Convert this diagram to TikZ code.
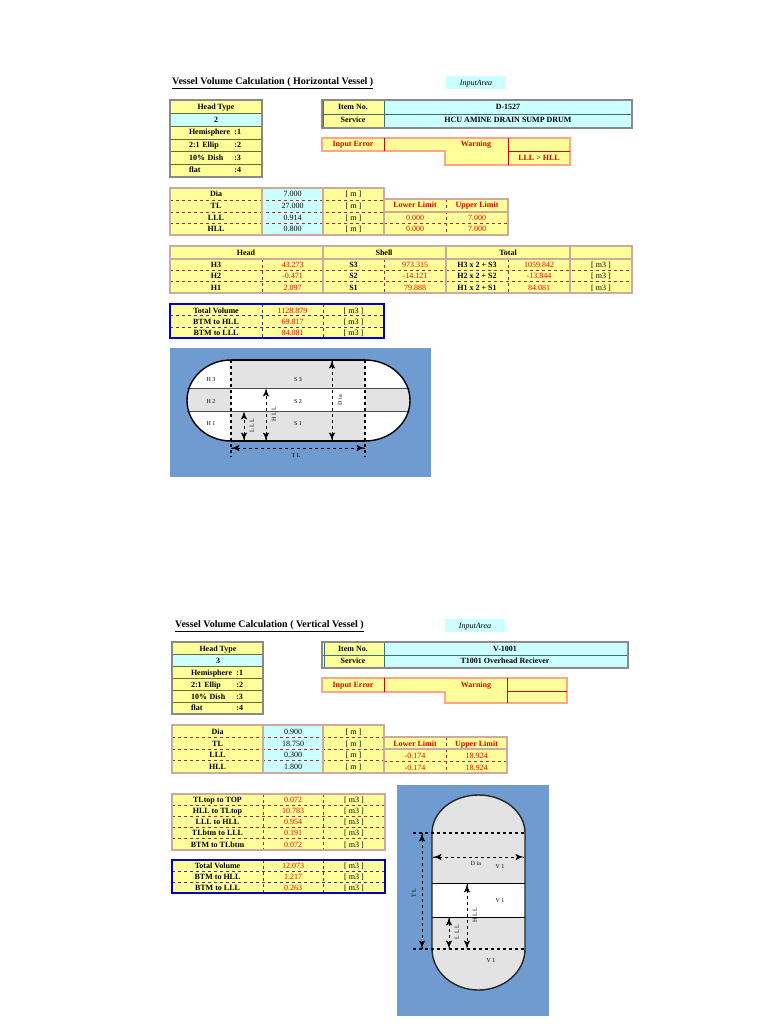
\documentclass[tikz,border=0pt]{standalone}
\usepackage{fontspec}
\setmainfont{Liberation Serif}
\usetikzlibrary{arrows}
\usetikzlibrary{decorations.markings}
\definecolor{cellyellow}{HTML}{FFFF99}
\definecolor{cellblue}{HTML}{CCFFFF}
\definecolor{sheetblue}{HTML}{6F9BD0}
\definecolor{shellgray}{HTML}{E3E3E3}
\definecolor{greyframe}{HTML}{8A8A8A}
\definecolor{olivegrid}{HTML}{6B6B3A}
\definecolor{tealgrid}{HTML}{3F6F6F}
\definecolor{salmonframe}{HTML}{FFA58A}
\definecolor{tanframe}{HTML}{CDAAA0}
\definecolor{dashred}{HTML}{993333}
\definecolor{dashblue}{HTML}{333399}
\tikzset{txt/.style = {inner sep=0pt, text height=7pt, text depth=1pt, font=\fontsize{8}{9}\selectfont},
         lbl/.style = {txt, font=\fontsize{8}{9}\selectfont\bfseries},
         val/.style = {txt, text=red},
         redlbl/.style = {lbl, text=red!90!black},
         kind/.style = {lbl, text width=52pt, align=left},
         ttl/.style = {inner sep=0pt, anchor=west, font=\fontsize{10}{11}\selectfont\bfseries},
         dimtxt/.style = {inner sep=0pt, font=\fontsize{6}{7}\selectfont},
         dim/.style = {dashed, line width=1pt,
                       decoration={markings,
                                   mark=at position 0 with {\pgfsetlinewidth{1.9pt}\pgfsetdash{}{0pt}\arrowreversed{latex'}},
                                   mark=at position 1 with {\pgfsetlinewidth{1.9pt}\pgfsetdash{}{0pt}\arrow{latex'}}},
                       postaction={decorate}},
         greybox/.style = {draw=greyframe, line width=1.4pt},
         olive/.style = {draw=olivegrid, line width=0.8pt},
         teal/.style = {draw=tealgrid, line width=0.8pt},
         salmonbox/.style = {draw=salmonframe, line width=1.4pt},
         redline/.style = {draw=red!85!black, line width=0.8pt},
         tanbox/.style = {draw=tanframe, line width=1.4pt},
         rowdash/.style = {draw=dashred, dashed, line width=0.7pt},
         bluebox/.style = {draw=blue!80!black, line width=1.8pt},
         bluedash/.style = {draw=dashblue, dashed, line width=0.7pt}}

\begin{document}
\begin{tikzpicture}[x=1pt, y=-1pt]
    \useasboundingbox (0, 0) rectangle (768, 1024);

    % horizontal vessel
    \node [ttl] (titleh) at (172, 83) {\underline{Vessel Volume Calculation ( Horizontal Vessel )}};
    \fill [cellblue] (446, 76) rectangle (506, 89);
    \node [txt, font=\fontsize{8}{9}\selectfont\itshape] (areah) at (476, 82.5) {InputArea};

    \fill [cellyellow] (171, 101) rectangle (262, 176);
    \fill [cellblue] (171, 113) rectangle (262, 126);
    \draw [olive] (171, 113) -- (262, 113) (171, 126) -- (262, 126) (171, 139) -- (262, 139)
                  (171, 151) -- (262, 151) (171, 164) -- (262, 164);
    \draw [greybox] (170, 100) rectangle (262, 177);
    \node [lbl] (typeh) at (216, 106.5) {Head Type};
    \node [lbl] (typevalh) at (216, 119.5) {2};
    \node [kind] (hemih) at (215, 132) {Hemisphere\hfill:1};
    \node [kind] (ellih) at (215, 145) {2:1 Ellip\hfill:2};
    \node [kind] (dishh) at (215, 157.5) {10\% Dish\hfill:3};
    \node [kind] (flath) at (215, 170) {flat\hfill:4};

    \fill [cellyellow] (322, 100) rectangle (384, 128);
    \fill [cellblue] (384, 100) rectangle (632, 128);
    \draw [teal] (322, 114) -- (632, 114) (323, 100) -- (323, 128) (384, 100) -- (384, 128);
    \draw [greybox] (322, 100) rectangle (632, 128);
    \node [lbl] (itemh) at (353, 106.5) {Item No.};
    \node [lbl] (servh) at (353, 120) {Service};
    \node [lbl] (itemvalh) at (508, 106.5) {D-1527};
    \node [lbl] (servvalh) at (508, 120) {HCU AMINE DRAIN SUMP DRUM};

    \fill [cellyellow] (322, 138) rectangle (445, 151) (445, 138) rectangle (570, 165);
    \draw [salmonbox] (322, 138) -- (570, 138) -- (570, 165) -- (445, 165) -- (445, 151) -- (322, 151) -- cycle;
    \draw [redline] (384, 138) -- (384, 151) (508, 138) -- (508, 165) (508, 151) -- (570, 151);
    \node [redlbl] (errorh) at (353, 144) {Input Error};
    \node [redlbl] (warnh) at (476, 144) {Warning};
    \node [redlbl] (warnvalh) at (539, 158) {LLL > HLL};

    \fill [cellyellow] (170, 188) rectangle (384, 235);
    \fill [cellblue] (262, 188) rectangle (323, 235);
    \draw [rowdash] (170, 200) -- (384, 200) (170, 212) -- (384, 212) (170, 223) -- (384, 223);
    \draw [tanbox] (170, 188) rectangle (384, 235) (262, 188) -- (262, 235) (323, 188) -- (323, 235);
    \node [lbl] (diah) at (216, 194) {Dia};
    \node [lbl] (tlh) at (216, 206) {TL};
    \node [lbl] (lllh) at (216, 217.5) {LLL};
    \node [lbl] (hllh) at (216, 229) {HLL};
    \node [txt] (diavalh) at (292.5, 194) {7.000};
    \node [txt] (tlvalh) at (292.5, 206) {27.000};
    \node [txt] (lllvalh) at (292.5, 217.5) {0.914};
    \node [txt] (hllvalh) at (292.5, 229) {0.800};
    \node [txt] (diaunith) at (353.5, 194) {[ m ]};
    \node [txt] (tlunith) at (353.5, 206) {[ m ]};
    \node [txt] (lllunith) at (353.5, 217.5) {[ m ]};
    \node [txt] (hllunith) at (353.5, 229) {[ m ]};

    \fill [cellyellow] (384, 199) rectangle (508, 235);
    \draw [rowdash] (384, 223) -- (508, 223) (446, 199) -- (446, 235);
    \draw [tanbox] (384, 199) rectangle (508, 235) (384, 212) -- (508, 212);
    \node [redlbl] (lowerh) at (415, 205) {Lower Limit};
    \node [redlbl] (upperh) at (477, 205) {Upper Limit};
    \node [val] (lowerah) at (415, 217.5) {0.000};
    \node [val] (upperah) at (477, 217.5) {7.000};
    \node [val] (lowerbh) at (415, 229) {0.000};
    \node [val] (upperbh) at (477, 229) {7.000};

    \fill [cellyellow] (170, 246) rectangle (632, 293);
    \draw [rowdash] (170, 270) -- (632, 270) (170, 281) -- (632, 281)
                    (262, 259) -- (262, 293) (384, 259) -- (384, 293) (508, 259) -- (508, 293);
    \draw [tanbox] (170, 246) rectangle (632, 293) (170, 259) -- (632, 259)
                   (323, 246) -- (323, 293) (446, 246) -- (446, 293) (570, 246) -- (570, 293);
    \node [lbl] (headh) at (246, 252.5) {Head};
    \node [lbl] (shellh) at (384, 252.5) {Shell};
    \node [lbl] (totalh) at (508, 252.5) {Total};
    \node [lbl] (hthree) at (216, 264) {H3};
    \node [lbl] (htwo) at (216, 275.5) {H2};
    \node [lbl] (hone) at (216, 287) {H1};
    \node [val] (hthreeval) at (292.5, 264) {43.273};
    \node [val] (htwoval) at (292.5, 275.5) {-0.471};
    \node [val] (honeval) at (292.5, 287) {2.097};
    \node [lbl] (sthree) at (353.5, 264) {S3};
    \node [lbl] (stwo) at (353.5, 275.5) {S2};
    \node [lbl] (sone) at (353.5, 287) {S1};
    \node [val] (sthreeval) at (415, 264) {973.315};
    \node [val] (stwoval) at (415, 275.5) {-14.121};
    \node [val] (soneval) at (415, 287) {79.888};
    \node [lbl] (tthree) at (477, 264) {H3 x 2 + S3};
    \node [lbl] (ttwo) at (477, 275.5) {H2 x 2 + S2};
    \node [lbl] (tone) at (477, 287) {H1 x 2 + S1};
    \node [val] (tthreeval) at (539, 264) {1059.842};
    \node [val] (ttwoval) at (539, 275.5) {-13.844};
    \node [val] (toneval) at (539, 287) {84.081};
    \node [txt] (tthreeunit) at (601, 264) {[ m3 ]};
    \node [txt] (ttwounit) at (601, 275.5) {[ m3 ]};
    \node [txt] (toneunit) at (601, 287) {[ m3 ]};

    \fill [cellyellow] (170, 304) rectangle (384, 338);
    \draw [bluedash] (170, 315.5) -- (384, 315.5) (170, 327) -- (384, 327)
                     (262, 304) -- (262, 338) (323, 304) -- (323, 338);
    \draw [bluebox] (170, 304) rectangle (384, 338);
    \node [lbl] (sumh) at (216, 310) {Total Volume};
    \node [lbl] (btmhllh) at (216, 321) {BTM to HLL};
    \node [lbl] (btmlllh) at (216, 332.5) {BTM to LLL};
    \node [val] (sumvalh) at (292.5, 310) {1128.879};
    \node [val] (btmhllvalh) at (292.5, 321) {69.817};
    \node [val] (btmlllvalh) at (292.5, 332.5) {84.081};
    \node [txt] (sumunith) at (353.5, 310) {[ m3 ]};
    \node [txt] (btmhllunith) at (353.5, 321) {[ m3 ]};
    \node [txt] (btmlllunith) at (353.5, 332.5) {[ m3 ]};

    \fill [sheetblue] (170, 348) rectangle (431, 477);
    \fill [white] (231, 360) arc [start angle=270, end angle=90, x radius=44, y radius=40.5]
        -- (365, 441) arc [start angle=90, end angle=-90, x radius=45, y radius=40.5] -- cycle;
    \begin{scope}
      \clip (231, 360) arc [start angle=270, end angle=90, x radius=44, y radius=40.5]
          -- (365, 441) arc [start angle=90, end angle=-90, x radius=45, y radius=40.5] -- cycle;
      \fill [shellgray] (231, 360) rectangle (365, 388) (231, 411) rectangle (365, 441)
                        (187, 388) rectangle (231, 411) (365, 388) rectangle (410, 411);
    \end{scope}
    \draw [black!70, line width=1pt] (187, 388) -- (410, 388) (187, 411) -- (410, 411);
    \draw [line width=1.4pt] (231, 360) arc [start angle=270, end angle=90, x radius=44, y radius=40.5]
        (365, 441) arc [start angle=90, end angle=-90, x radius=45, y radius=40.5];
    \draw [line width=2pt] (231, 360) -- (365, 360) (231, 441) -- (365, 441);
    \draw [dashed, line width=1.2pt] (231, 360) -- (231, 457) (365, 360) -- (365, 457);
    \coordinate (tlleft) at (231, 448);
    \coordinate (tlright) at (365, 448);
    \coordinate (lllbase) at (244, 441);
    \coordinate (llltop) at (244, 411);
    \coordinate (hllbase) at (266, 441);
    \coordinate (hlltop) at (266, 388);
    \coordinate (diabase) at (332, 441);
    \coordinate (diatop) at (332, 360);
    \draw [dim] (tlleft) -- (tlright);
    \draw [dim] (lllbase) -- (llltop);
    \draw [dim] (hllbase) -- (hlltop);
    \draw [dim] (diabase) -- (diatop);
    \node [dimtxt] (hthreedim) at (211, 380) {H 3};
    \node [dimtxt] (htwodim) at (211, 402) {H 2};
    \node [dimtxt] (honedim) at (211, 424) {H 1};
    \node [dimtxt] (sthreedim) at (298, 380) {S 3};
    \node [dimtxt] (stwodim) at (298, 402) {S 2};
    \node [dimtxt] (sonedim) at (298, 424) {S 1};
    \node [dimtxt] (tldim) at (296, 456) {T L};
    \node [dimtxt, rotate=90] (llldim) at (252, 425.5) {L L L};
    \node [dimtxt, rotate=90] (hlldim) at (274, 414) {H L L};
    \node [dimtxt, rotate=90] (diadim) at (340, 400) {D ia};

    % vertical vessel
    \node [ttl] (titlev) at (175, 626) {\underline{Vessel Volume Calculation ( Vertical Vessel )}};
    \fill [cellblue] (445, 619) rectangle (505, 632);
    \node [txt, font=\fontsize{8}{9}\selectfont\itshape] (areav) at (475, 625.5) {InputArea};

    \fill [cellyellow] (172, 642) rectangle (263, 714);
    \fill [cellblue] (172, 654) rectangle (263, 666);
    \draw [olive] (172, 654) -- (263, 654) (172, 666) -- (263, 666) (172, 678) -- (263, 678)
                  (172, 690) -- (263, 690) (172, 702) -- (263, 702);
    \draw [greybox] (172, 642) rectangle (263, 714);
    \node [lbl] (typev) at (218, 648) {Head Type};
    \node [lbl] (typevalv) at (218, 660) {3};
    \node [kind] (hemiv) at (217, 672) {Hemisphere\hfill:1};
    \node [kind] (elliv) at (217, 684) {2:1 Ellip\hfill:2};
    \node [kind] (dishv) at (217, 696) {10\% Dish\hfill:3};
    \node [kind] (flatv) at (217, 707.5) {flat\hfill:4};

    \fill [cellyellow] (322, 642) rectangle (384, 668);
    \fill [cellblue] (384, 642) rectangle (628, 668);
    \draw [teal] (322, 655) -- (628, 655) (324, 642) -- (324, 668) (384, 642) -- (384, 668);
    \draw [greybox] (322, 642) rectangle (628, 668);
    \node [lbl] (itemv) at (353, 648.5) {Item No.};
    \node [lbl] (servv) at (353, 660.5) {Service};
    \node [lbl] (itemvalv) at (505, 648.5) {V-1001};
    \node [lbl] (servvalv) at (505, 660.5) {T1001 Overhead Reciever};

    \fill [cellyellow] (322, 678) rectangle (445, 692) (445, 678) rectangle (567, 703);
    \draw [salmonbox] (322, 678) -- (567, 678) -- (567, 703) -- (445, 703) -- (445, 692) -- (322, 692) -- cycle;
    \draw [redline] (384, 678) -- (384, 692) (507, 678) -- (507, 703) (507, 691) -- (567, 691);
    \node [redlbl] (errorv) at (353, 684) {Input Error};
    \node [redlbl] (warnv) at (476, 684) {Warning};

    \fill [cellyellow] (172, 725) rectangle (384, 773);
    \fill [cellblue] (263, 725) rectangle (323, 773);
    \draw [rowdash] (172, 737) -- (384, 737) (172, 749) -- (384, 749) (172, 760) -- (384, 760);
    \draw [tanbox] (172, 725) rectangle (384, 773) (263, 725) -- (263, 773) (323, 725) -- (323, 773);
    \node [lbl] (diav) at (217.5, 731) {Dia};
    \node [lbl] (tlv) at (217.5, 743) {TL};
    \node [lbl] (lllv) at (217.5, 754.5) {LLL};
    \node [lbl] (hllv) at (217.5, 766) {HLL};
    \node [txt] (diavalv) at (293, 731) {0.900};
    \node [txt] (tlvalv) at (293, 743) {18.750};
    \node [txt] (lllvalv) at (293, 754.5) {0.300};
    \node [txt] (hllvalv) at (293, 766) {1.800};
    \node [txt] (diaunitv) at (353.5, 731) {[ m ]};
    \node [txt] (tlunitv) at (353.5, 743) {[ m ]};
    \node [txt] (lllunitv) at (353.5, 754.5) {[ m ]};
    \node [txt] (hllunitv) at (353.5, 766) {[ m ]};

    \fill [cellyellow] (384, 737) rectangle (507, 773);
    \draw [rowdash] (384, 761) -- (507, 761) (446, 737) -- (446, 773);
    \draw [tanbox] (384, 737) rectangle (507, 773) (384, 749) -- (507, 749);
    \node [redlbl] (lowerv) at (415, 743) {Lower Limit};
    \node [redlbl] (upperv) at (476.5, 743) {Upper Limit};
    \node [val] (lowerav) at (415, 755) {-0.174};
    \node [val] (upperav) at (476.5, 755) {18.924};
    \node [val] (lowerbv) at (415, 767) {-0.174};
    \node [val] (upperbv) at (476.5, 767) {18.924};

    \fill [cellyellow] (172, 794) rectangle (385, 850);
    \draw [rowdash] (172, 805) -- (385, 805) (172, 816) -- (385, 816) (172, 827) -- (385, 827)
                    (172, 838) -- (385, 838) (263, 794) -- (263, 850) (323, 794) -- (323, 850);
    \draw [draw=tanframe, line width=1.4pt] (172, 794) rectangle (385, 850);
    \node [lbl] (tltop) at (217.5, 799.5) {TLtop to TOP};
    \node [lbl] (hlltl) at (217.5, 810.5) {HLL to TLtop};
    \node [lbl] (lllhll) at (217.5, 821.5) {LLL to HLL};
    \node [lbl] (tllll) at (217.5, 832.5) {TLbtm to LLL};
    \node [lbl] (btmtl) at (217.5, 844) {BTM to TLbtm};
    \node [val] (tltopval) at (293, 799.5) {0.072};
    \node [val] (hlltlval) at (293, 810.5) {10.783};
    \node [val] (lllhllval) at (293, 821.5) {0.954};
    \node [val] (tllllval) at (293, 832.5) {0.191};
    \node [val] (btmtlval) at (293, 844) {0.072};
    \node [txt] (tltopunit) at (354, 799.5) {[ m3 ]};
    \node [txt] (hlltlunit) at (354, 810.5) {[ m3 ]};
    \node [txt] (lllhllunit) at (354, 821.5) {[ m3 ]};
    \node [txt] (tllllunit) at (354, 832.5) {[ m3 ]};
    \node [txt] (btmtlunit) at (354, 844) {[ m3 ]};

    \fill [cellyellow] (172, 860) rectangle (385, 893);
    \draw [bluedash] (172, 871) -- (385, 871) (172, 882) -- (385, 882)
                     (263, 860) -- (263, 893) (323, 860) -- (323, 893);
    \draw [bluebox] (172, 860) rectangle (385, 893);
    \node [lbl] (sumv) at (217.5, 865.5) {Total Volume};
    \node [lbl] (btmhllv) at (217.5, 876.5) {BTM to HLL};
    \node [lbl] (btmlllv) at (217.5, 887.5) {BTM to LLL};
    \node [val] (sumvalv) at (293, 865.5) {12.073};
    \node [val] (btmhllvalv) at (293, 876.5) {1.217};
    \node [val] (btmlllvalv) at (293, 887.5) {0.263};
    \node [txt] (sumunitv) at (354, 865.5) {[ m3 ]};
    \node [txt] (btmhllunitv) at (354, 876.5) {[ m3 ]};
    \node [txt] (btmlllunitv) at (354, 887.5) {[ m3 ]};

    \fill [sheetblue] (397, 785) rectangle (549, 1016);
    \fill [shellgray] (432, 833) arc [start angle=180, end angle=360, x radius=46.5, y radius=38]
        -- (525, 949) arc [start angle=0, end angle=180, x radius=46.5, y radius=41] -- cycle;
    \fill [white] (432, 883) rectangle (525, 917);
    \draw [line width=0.9pt] (432, 883) -- (525, 883) (432, 917) -- (525, 917);
    \draw [black!85, line width=1.4pt] (432, 833) arc [start angle=180, end angle=360, x radius=46.5, y radius=38]
        -- (525, 949) arc [start angle=0, end angle=180, x radius=46.5, y radius=41] -- cycle;
    \coordinate (tltopleft) at (413, 833);
    \coordinate (tltopright) at (525, 833);
    \coordinate (tlbtmleft) at (413, 949);
    \coordinate (tlbtmright) at (525, 949);
    \draw [dashed, line width=1.2pt] (tltopleft) -- (tltopright);
    \draw [dashed, line width=1.2pt] (tlbtmleft) -- (tlbtmright);
    \coordinate (tvtop) at (422, 833);
    \coordinate (tvbase) at (422, 949);
    \coordinate (dvleft) at (433, 857);
    \coordinate (dvright) at (524, 857);
    \coordinate (hvtop) at (467, 884);
    \coordinate (hvbase) at (467, 949);
    \coordinate (lvtop) at (449, 917);
    \coordinate (lvbase) at (449, 949);
    \draw [dim] (tvtop) -- (tvbase);
    \draw [dim] (dvleft) -- (dvright);
    \draw [dim] (hvtop) -- (hvbase);
    \draw [dim] (lvtop) -- (lvbase);
    \node [dimtxt] (diadimv) at (476, 864) {D ia};
    \node [dimtxt] (vthree) at (500, 867) {V 1};
    \node [dimtxt] (vtwo) at (500, 901) {V 1};
    \node [dimtxt] (vone) at (491, 961) {V 1};
    \node [dimtxt, rotate=90] (tldimv) at (414, 893) {T L};
    \node [dimtxt, rotate=90] (hlldimv) at (475, 915) {H L L};
    \node [dimtxt, rotate=90] (llldimv) at (457, 932) {L L L};
  \end{tikzpicture}
\end{document}
